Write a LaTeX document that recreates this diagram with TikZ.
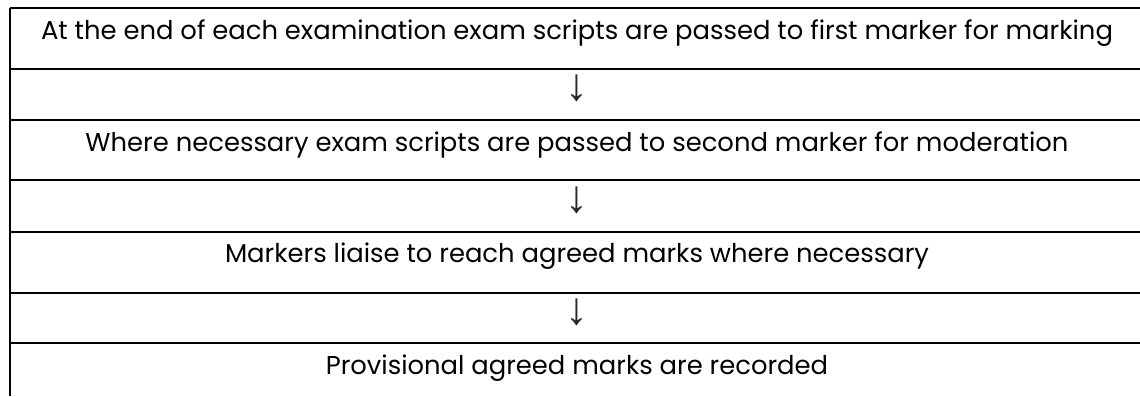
\documentclass[tikz,border=0pt]{standalone}
\usepackage{fontspec}
\setmainfont{Poppins}
\newfontfamily\arrowfont{Liberation Sans}

\begin{document}
\begin{tikzpicture}[x=0.02cm,y=-0.02cm]
   \tikzstyle{every node}=[anchor=base, inner sep=0pt, font=\fontsize{14.7}{17}\selectfont]
   \tikzstyle{down}=[font=\arrowfont\fontsize{26}{28}\selectfont, text=black!85]
   \tikzstyle{rule}=[line width=1.5pt]

\useasboundingbox (0,0) rectangle (1140,396);

\node (first) at (577,39) {At the end of each examination exam scripts are passed to first marker for marking};
\node[down] (a1) at (577,100) {↓};
\node (second) at (577,151) {Where necessary exam scripts are passed to second marker for moderation};
\node[down] (a2) at (577,212) {↓};
\node (liaise) at (577,262) {Markers liaise to reach agreed marks where necessary};
\node[down] (a3) at (577,324) {↓};
\node (record) at (577,374) {Provisional agreed marks are recorded};

% table rules
\draw[rule] (10,8) -- (10,396);
\foreach \y in {8,69,120,180,232,293,343}
    \draw[rule] (10,\y) -- (1140,\y);

\end{tikzpicture}
\end{document}
